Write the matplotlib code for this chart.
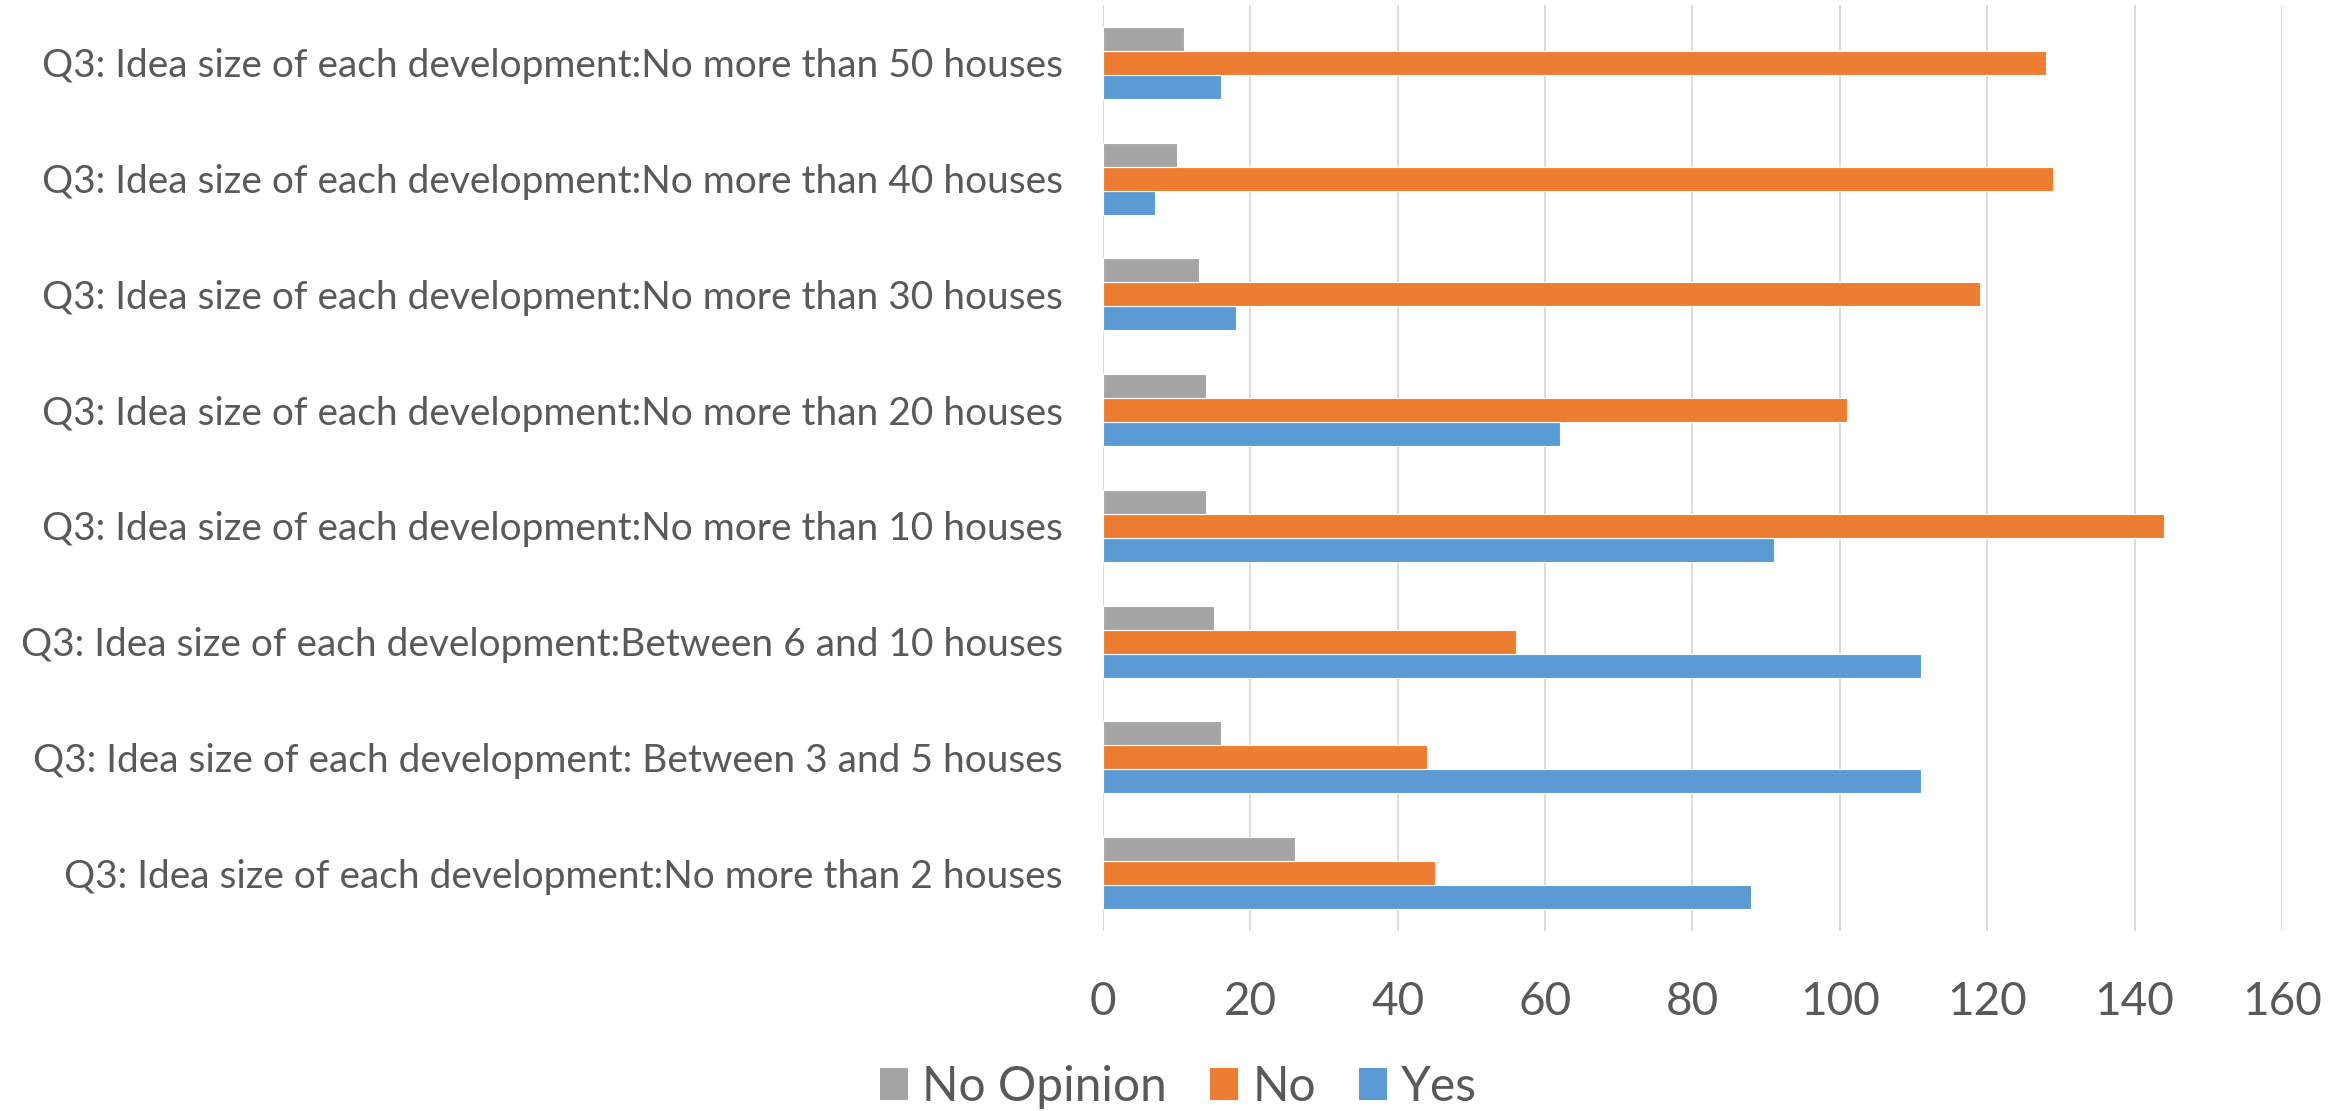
import matplotlib
matplotlib.use("Agg")
import matplotlib.pyplot as plt
from matplotlib.patches import Patch
import numpy as np

categories = [
    "Q3: Idea size of each development:No more than 2 houses",
    "Q3: Idea size of each development: Between 3 and 5 houses",
    "Q3: Idea size of each development:Between 6 and 10 houses",
    "Q3: Idea size of each development:No more than 10 houses",
    "Q3: Idea size of each development:No more than 20 houses",
    "Q3: Idea size of each development:No more than 30 houses",
    "Q3: Idea size of each development:No more than 40 houses",
    "Q3: Idea size of each development:No more than 50 houses",
]
yes_values = [88, 111, 111, 91, 62, 18, 7, 16]
no_values = [45, 44, 56, 144, 101, 119, 129, 128]
no_opinion_values = [26, 16, 15, 14, 14, 13, 10, 11]
series_names = ["No Opinion", "No", "Yes"]
x_ticks = [0, 20, 40, 60, 80, 100, 120, 140, 160]

colors = {"Yes": "#5B9BD5", "No": "#ED7D31", "No Opinion": "#A5A5A5"}
text_color = "#595959"
plt.rcParams["font.family"] = ["Lato", "DejaVu Sans"]

fig = plt.figure(figsize=(23.51, 11.11), dpi=100)
ax = fig.add_axes([0.4692, 0.162, 0.5014, 0.8335])

y = np.arange(len(categories))
h = 0.207
ax.barh(y - h, yes_values, height=h, color=colors["Yes"], edgecolor="white", linewidth=0.8, zorder=3)
ax.barh(y, no_values, height=h, color=colors["No"], edgecolor="white", linewidth=0.8, zorder=3)
ax.barh(y + h, no_opinion_values, height=h, color=colors["No Opinion"], edgecolor="white", linewidth=0.8, zorder=3)

ax.set_ylim(-0.5, len(categories) - 0.5)
ax.set_xlim(0, 160)
ax.set_xticks(x_ticks)
ax.set_xticklabels([str(t) for t in x_ticks])
ax.set_yticks(y)
ax.set_yticklabels(categories)

ax.grid(axis="x", color="#D9D9D9", linewidth=1.3, zorder=0)
ax.grid(axis="y", visible=False)
for s in ax.spines.values():
    s.set_visible(False)
ax.tick_params(axis="both", length=0)
ax.tick_params(axis="x", labelsize=33, colors=text_color, pad=36)
ax.tick_params(axis="y", labelsize=28, colors=text_color, pad=29)

handles = [Patch(facecolor=colors[n], edgecolor="none") for n in series_names]
fig.legend(handles, series_names, loc="center", bbox_to_anchor=(0.5013, 0.0216),
           ncol=3, frameon=False, fontsize=34.5, labelcolor=text_color,
           handlelength=0.58, handleheight=0.65, handletextpad=0.3,
           columnspacing=0.9, borderaxespad=0, borderpad=0)

fig.savefig("out.png", dpi=100, facecolor="white")
